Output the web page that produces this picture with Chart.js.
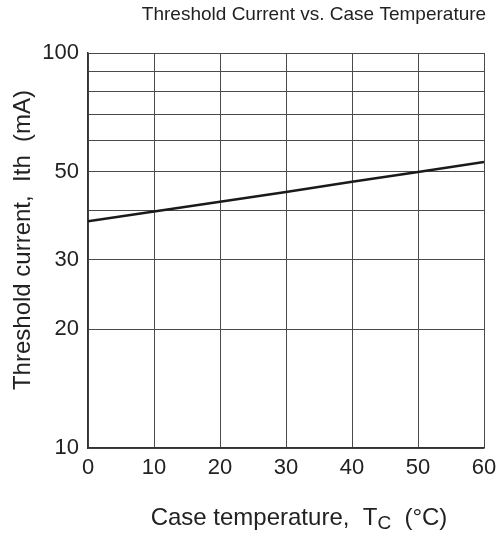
<!DOCTYPE html>
<html><head><meta charset="utf-8">
<script src="https://cdn.jsdelivr.net/npm/chart.js@4"></script>
<style>html,body{margin:0;padding:0;background:#fff}#wrap{width:504px;height:536px}</style>
</head><body><div id="wrap"><canvas id="c" width="504" height="536"></canvas></div>
<script>
const temperatures = [0, 10, 20, 30, 40, 50, 60];
const thresholdCurrent = [37.5, 39.7, 42.0, 44.5, 47.2, 50.0, 53.0];
const yGridValues = [10, 20, 30, 40, 50, 60, 70, 80, 90, 100];
const yTickLabels = [10, 20, 30, 50, 100];
const xTickValues = [0, 10, 20, 30, 40, 50, 60];
const chartTitle = 'Threshold Current vs. Case Temperature';
const yTitle = 'Threshold current,  Ith  (mA)';
const xTitleMain = 'Case temperature,  T';
const xTitleSub = 'C';
const xTitleEnd = '  (°C)';

const FONT = '"Liberation Sans", Arial, Helvetica, sans-serif';
const TXT = '#222';

const titlesPlugin = {
  id: 'titles',
  afterDraw(chart) {
    const ctx = chart.ctx;
    ctx.save();
    ctx.fillStyle = TXT;
    ctx.textBaseline = 'middle';
    ctx.font = '19px ' + FONT;
    ctx.textAlign = 'center';
    ctx.fillText(chartTitle, 314, 15);
    // y title
    ctx.save();
    ctx.translate(23, 240);
    ctx.rotate(-Math.PI / 2);
    ctx.font = '24px ' + FONT;
    ctx.textAlign = 'center';
    ctx.fillText(yTitle, 0, 0);
    ctx.restore();
    // x title with subscript
    ctx.font = '24px ' + FONT;
    const w1 = ctx.measureText(xTitleMain).width;
    ctx.font = '19px ' + FONT;
    const w2 = ctx.measureText(xTitleSub).width;
    ctx.font = '24px ' + FONT;
    const w3 = ctx.measureText(xTitleEnd).width;
    const total = w1 + w2 + w3;
    let x = 299 - total / 2;
    const y = 518;
    ctx.textAlign = 'left';
    ctx.fillText(xTitleMain, x, y);
    x += w1;
    ctx.font = '19px ' + FONT;
    ctx.fillText(xTitleSub, x, y + 6);
    x += w2;
    ctx.font = '24px ' + FONT;
    ctx.fillText(xTitleEnd, x, y);
    ctx.restore();
  }
};

new Chart(document.getElementById('c'), {
  type: 'line',
  data: {
    labels: temperatures,
    datasets: [{
      data: temperatures.map((t, i) => ({x: t, y: thresholdCurrent[i]})),
      borderColor: '#1a1a1a',
      borderWidth: 2.5,
      pointRadius: 0,
      tension: 0,
      fill: false
    }]
  },
  options: {
    responsive: false,
    animation: false,
    devicePixelRatio: 1,
    layout: {padding: {left: 0, top: 53, right: 20, bottom: 0}},
    plugins: {legend: {display: false}, tooltip: {enabled: false}, title: {display: false}},
    scales: {
      x: {
        type: 'linear', min: 0, max: 60,
        afterBuildTicks(s) { s.ticks = xTickValues.map(v => ({value: v})); },
        afterFit(s) { s.height = 536 - 448; },
        grid: {color: '#4a4a4a', lineWidth: 1, drawTicks: false},
        border: {color: '#333', width: 1.5},
        ticks: {color: TXT, font: {size: 22, family: FONT}, padding: 7, maxRotation: 0}
      },
      y: {
        type: 'logarithmic', min: 10, max: 100,
        afterBuildTicks(s) { s.ticks = yGridValues.map(v => ({value: v})); },
        afterFit(s) { s.width = 88; },
        grid: {color: '#4a4a4a', lineWidth: 1, drawTicks: false},
        border: {color: '#333', width: 1.5},
        ticks: {
          color: TXT, font: {size: 22, family: FONT}, padding: 9, autoSkip: false,
          callback: v => yTickLabels.includes(v) ? String(v) : ''
        }
      }
    }
  },
  plugins: [titlesPlugin]
});
</script></body></html>
